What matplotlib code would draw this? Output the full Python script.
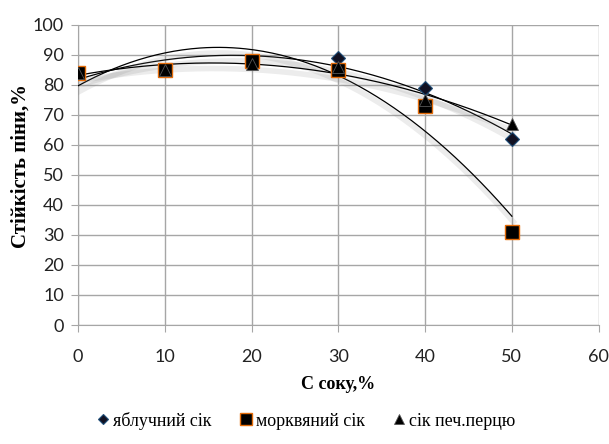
import numpy as np
import matplotlib
matplotlib.use("Agg")
import matplotlib.pyplot as plt
import matplotlib.patheffects as pe

# data
juice = [0, 10, 20, 30, 40, 50]
apple = [84, 85, 88, 89, 79, 62]
carrot = [84, 85, 88, 85, 73, 31]
pepper = [84, 85, 87, 86, 75, 67]
labels = ["яблучний сік", "морквяний сік", "сік печ.перцю"]

tick_font = ["Lato", "DejaVu Sans"]
serif = "Liberation Serif"

fig = plt.figure(figsize=(6.09, 4.44), dpi=100)
ax = fig.add_axes([0.128, 0.268, 0.855, 0.676])

# polynomial (order 2) trend lines with a soft shadow
xs = np.linspace(0, 50, 200)
shadow = [pe.SimpleLineShadow(offset=(1, -4), shadow_color="gray", alpha=0.15, linewidth=4),
          pe.Normal()]
for series in (apple, carrot, pepper):
    coef = np.polyfit(juice, series, 2)
    ax.plot(xs, np.polyval(coef, xs), color="black", lw=0.9, path_effects=shadow, zorder=3)

ax.plot(juice, apple, ls="none", marker="D", ms=7, mfc="#111122", mec="#1f4e79",
        mew=0.8, label=labels[0], zorder=4)
ax.plot(juice, carrot, ls="none", marker="s", ms=10, mfc="black", mec="#e46c0a",
        mew=1.0, label=labels[1], zorder=5)
ax.plot(juice, pepper, ls="none", marker="^", ms=9, mfc="black", mec="#555555",
        mew=0.6, label=labels[2], zorder=6)

ax.set_xlim(0, 60)
ax.set_ylim(0, 100)
ax.set_xticks(range(0, 61, 10))
ax.set_yticks(range(0, 101, 10))
ax.grid(True, color="#a6a6a6", lw=1)
ax.set_axisbelow(True)
for s in ("top", "right"):
    ax.spines[s].set_visible(False)
for s in ("left", "bottom"):
    ax.spines[s].set_color("#a6a6a6")
ax.tick_params(direction="out", length=5, color="#a6a6a6", labelsize=13)
ax.tick_params(axis="x", pad=12)
ax.tick_params(axis="y", pad=5)
for t in ax.get_xticklabels() + ax.get_yticklabels():
    t.set_fontfamily(tick_font)
    t.set_color("#222222")

ax.set_xlabel("С соку,%", fontfamily=serif, fontweight="bold", fontsize=13, labelpad=8)
ax.set_ylabel("Стійкість піни,%", fontfamily=serif, fontweight="bold", fontsize=15, labelpad=8)
ax.yaxis.set_label_coords(-0.09, 0.53)

fig.legend(loc="lower center", bbox_to_anchor=(0.5, -0.004), ncol=3, frameon=False,
           prop={"family": serif, "size": 13}, handletextpad=0.05, columnspacing=1.4,
           handlelength=1.0, markerscale=0.8)

fig.savefig("out.png", dpi=100)
